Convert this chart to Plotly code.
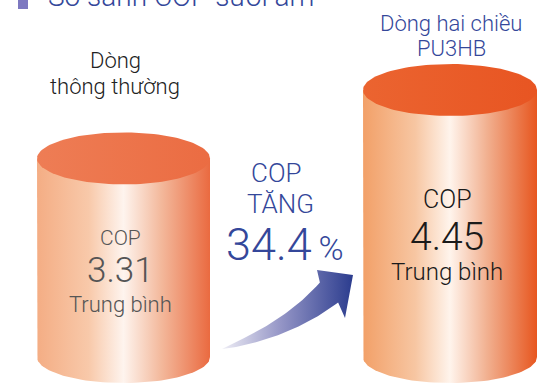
"""COP comparison infographic: two cylinders whose heights follow the COP values."""

from __future__ import annotations

import numpy as np
import plotly.graph_objects as go

# ---- data -------------------------------------------------------------------
TITLE = "So sánh COP sưởi ấm"
CATEGORY_LINES = [["Dòng", "thông thường"], ["Dòng hai chiều", "PU3HB"]]
COP_VALUES = [3.31, 4.45]
VALUE_CAPTION = "COP"
VALUE_SUBCAPTION = "Trung bình"
INCREASE_LINES = ["COP", "TĂNG"]
INCREASE_PCT = 34.4

# ---- layout (pixel-like coordinates, y grows downwards) ---------------------
W, H = 548, 387
FONT = "Roboto"
WEIGHT = 300
BASELINE = 357          # centre of the cylinders' bottom ellipse
PX_PER_COP = 60         # cylinder height scale
CENTERS = [123.5, 450]
RX = [86.5, 87]
RY = 26

BODY_COLORS = [
    [[0, "#f4ad84"], [0.3, "#f8c9aa"], [0.5, "#fef4ee"], [0.72, "#f3b89b"], [1, "#ea6a40"]],
    [[0, "#f2a068"], [0.3, "#f7c6a2"], [0.5, "#fff4ec"], [0.72, "#f1ae8d"], [1, "#e7561f"]],
]
TOP_COLORS = [
    [[0, "#ee7d55"], [1, "#eb6c42"]],
    [[0, "#eb6430"], [1, "#e85522"]],
]
TEXT_COLORS = ["#555555", "#1a1a1a"]
BLUE = "#34479a"

fig = go.Figure()

t = np.linspace(0, np.pi, 60)
for i, cop in enumerate(COP_VALUES):
    cx, rx = CENTERS[i], RX[i]
    top = BASELINE - PX_PER_COP * cop
    # body: left side, lower half ellipse, right side
    bx = np.concatenate([[cx - rx], cx - rx * np.cos(t), [cx + rx]])
    by = np.concatenate([[top], BASELINE + RY * np.sin(t), [top]])
    fig.add_trace(go.Scatter(
        x=bx, y=by, mode="lines", fill="toself", line={"width": 0},
        fillgradient={"type": "horizontal", "colorscale": BODY_COLORS[i]},
        hoverinfo="skip", showlegend=False,
    ))
    full = np.linspace(0, 2 * np.pi, 120)
    fig.add_trace(go.Scatter(
        x=cx + rx * np.cos(full), y=top + RY * np.sin(full),
        mode="lines", fill="toself", line={"width": 0},
        fillgradient={"type": "horizontal", "colorscale": TOP_COLORS[i]},
        hoverinfo="skip", showlegend=False,
    ))

# curved arrow (quadratic bezier body + pointed head)
p0, p1, p2 = np.array([222, 349]), np.array([288, 330]), np.array([329, 292.5])
s = np.linspace(0, 1, 40)[:, None]
curve = (1 - s) ** 2 * p0 + 2 * (1 - s) * s * p1 + s ** 2 * p2
tang = 2 * (1 - s) * (p1 - p0) + 2 * s * (p2 - p1)
tang = tang / np.linalg.norm(tang, axis=1, keepdims=True)
norm = np.column_stack([tang[:, 1], -tang[:, 0]])
half = 13.5 * s[:, 0] ** 0.8
upper = curve + norm * half[:, None]
lower = curve - norm * half[:, None]
head = np.array([[317, 270], [353, 275], [345, 318]])
arrow = np.vstack([upper, head, lower[::-1]])
fig.add_trace(go.Scatter(
    x=arrow[:, 0], y=arrow[:, 1], mode="lines", fill="toself", line={"width": 0},
    fillgradient={"type": "horizontal",
                  "colorscale": [[0, "#eeedf5"], [0.45, "#9495c6"], [1, "#2b3c8e"]]},
    hoverinfo="skip", showlegend=False,
))


def label(x, y, text, size, color):
    fig.add_annotation(x=x, y=y, text=text, showarrow=False, xanchor="center",
                       yanchor="middle",
                       font={"family": FONT, "size": size, "color": color, "weight": WEIGHT})


# headers
label(115, 60, CATEGORY_LINES[0][0], 22, "#222222")
label(115, 86, CATEGORY_LINES[0][1], 22, "#222222")
label(451, 23, CATEGORY_LINES[1][0], 22, BLUE)
label(451, 48, CATEGORY_LINES[1][1], 22, BLUE)

# values inside cylinders
value_rows = [
    [(237.5, 21), (270, 35), (304.5, 22)],
    [(199.5, 25), (237, 39), (272, 24)],
]
for i, cop in enumerate(COP_VALUES):
    rows = value_rows[i]
    cx = CENTERS[i] - 3
    label(cx, rows[0][0], VALUE_CAPTION, rows[0][1], TEXT_COLORS[i])
    label(cx, rows[1][0], f"{cop:.2f}", rows[1][1], TEXT_COLORS[i])
    label(cx, rows[2][0], VALUE_SUBCAPTION, rows[2][1], TEXT_COLORS[i])

# increase callout
label(276, 172.5, INCREASE_LINES[0], 26, BLUE)
label(280, 203.5, INCREASE_LINES[1], 26, BLUE)
label(285, 244, f"{INCREASE_PCT}<span style='font-size:34px'>\u2009%</span>", 45, BLUE)

# title (cut by the top edge, as in the source)
fig.add_shape(type="rect", x0=18, x1=28, y0=-4, y1=9, fillcolor="#7d78c0", line={"width": 0})
fig.add_annotation(x=46, y=15, text=TITLE, showarrow=False, xanchor="left", yanchor="bottom",
                   font={"family": FONT, "size": 28, "color": BLUE, "weight": WEIGHT})

fig.update_xaxes(range=[0, W], visible=False, fixedrange=True)
fig.update_yaxes(range=[H, 0], visible=False, fixedrange=True)
fig.update_layout(
    width=W, height=H, margin={"l": 0, "r": 0, "t": 0, "b": 0},
    paper_bgcolor="white", plot_bgcolor="white",
)
fig.write_html("out.html", config={"displayModeBar": False},
               post_script="document.body.style.margin = '0';")
